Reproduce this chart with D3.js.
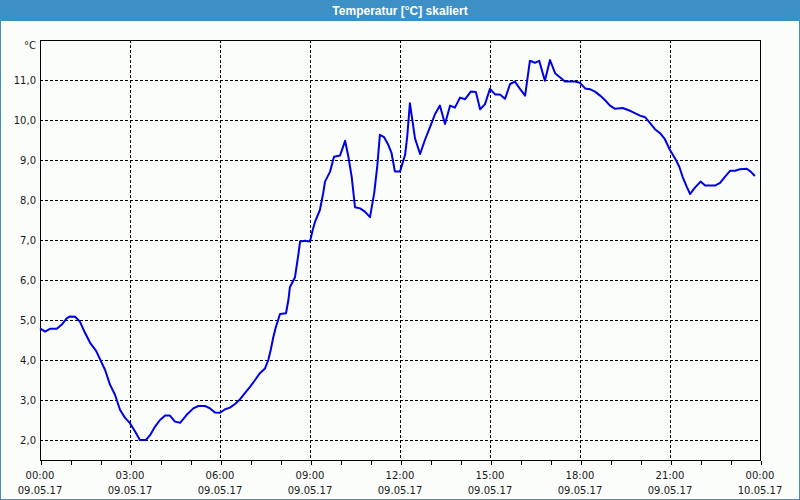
<!DOCTYPE html>
<html>
<head>
<meta charset="utf-8">
<script src="https://cdn.jsdelivr.net/npm/d3@7"></script>
<style>
  html, body { margin: 0; padding: 0; background: #ffffff; }
  svg { display: block; }
</style>
</head>
<body>
<div id="chart"></div>
<script>
// ---- data (hours after 09.05.17 00:00, temperature °C) ----
const title = "Temperatur [°C] skaliert";
const unitLabel = "°C";
const hours = [
  0.00, 0.17, 0.33, 0.56, 0.72, 0.89, 1.00, 1.17, 1.33, 1.50, 1.67, 1.87, 2.00, 2.17, 2.33, 2.50, 2.67, 2.83,
  3.00, 3.17, 3.33, 3.53, 3.67, 3.83, 4.00, 4.17, 4.33, 4.50, 4.67, 4.89, 5.11, 5.28, 5.50, 5.67, 5.83,
  6.00, 6.17, 6.33, 6.50, 6.67, 6.83, 7.00, 7.17, 7.33, 7.50, 7.61, 7.69, 7.78, 7.86, 8.00, 8.20, 8.28, 8.33,
  8.50, 8.61, 8.67, 8.83, 9.00, 9.09, 9.17, 9.33, 9.44, 9.50, 9.67, 9.80, 10.00, 10.17, 10.28, 10.39, 10.50,
  10.67, 10.83, 11.00, 11.14, 11.24, 11.33, 11.47, 11.61, 11.72, 11.83, 12.00,
  12.17, 12.24, 12.33, 12.50, 12.67, 12.83, 13.00, 13.17, 13.33, 13.50, 13.67, 13.83, 14.00, 14.17, 14.36,
  14.53, 14.67, 14.83, 15.00, 15.17, 15.33, 15.50, 15.67, 15.83, 16.00, 16.17, 16.33, 16.50, 16.64, 16.83,
  17.00, 17.17, 17.33, 17.50, 17.67, 17.83, 18.00, 18.17, 18.33, 18.50, 18.67, 18.83, 19.00, 19.17, 19.42,
  19.67, 19.83, 20.00, 20.17, 20.33, 20.50, 20.67, 20.83, 21.00, 21.17, 21.31, 21.42, 21.56, 21.67, 21.83,
  22.02, 22.17, 22.50, 22.67, 22.83, 23.00, 23.17, 23.33, 23.56, 23.69, 23.83
];
const temps = [
  4.79, 4.71, 4.78, 4.78, 4.88, 5.04, 5.09, 5.08, 4.96, 4.68, 4.43, 4.23, 4.02, 3.75, 3.39, 3.13, 2.75, 2.56,
  2.42, 2.21, 2.00, 2.00, 2.12, 2.33, 2.50, 2.61, 2.61, 2.46, 2.43, 2.63, 2.79, 2.85, 2.85, 2.79, 2.69,
  2.68, 2.77, 2.81, 2.90, 3.02, 3.17, 3.33, 3.50, 3.67, 3.79, 4.00, 4.25, 4.58, 4.82, 5.15, 5.17, 5.50, 5.82,
  6.07, 6.63, 6.96, 6.98, 6.96, 7.25, 7.46, 7.75, 8.17, 8.46, 8.71, 9.08, 9.11, 9.48, 9.08, 8.58, 7.82,
  7.79, 7.71, 7.57, 8.17, 8.83, 9.63, 9.57, 9.38, 9.17, 8.71, 8.71,
  9.13, 9.58, 10.42, 9.54, 9.15, 9.50, 9.82, 10.15, 10.36, 9.90, 10.36, 10.31, 10.56, 10.52, 10.71,
  10.70, 10.27, 10.39, 10.78, 10.64, 10.64, 10.53, 10.90, 10.96, 10.78, 10.61, 11.48, 11.43, 11.48, 10.98,
  11.50, 11.17, 11.07, 10.96, 10.96, 10.96, 10.93, 10.79, 10.77, 10.71, 10.61, 10.50, 10.36, 10.28, 10.30,
  10.23, 10.17, 10.11, 10.07, 9.93, 9.77, 9.67, 9.52, 9.25, 9.04, 8.83, 8.58, 8.33, 8.15, 8.31,
  8.46, 8.36, 8.36, 8.43, 8.58, 8.73, 8.73, 8.77, 8.78, 8.71, 8.60
];
const yTickValues = [2, 3, 4, 5, 6, 7, 8, 9, 10, 11];
const xMajorHours = [0, 3, 6, 9, 12, 15, 18, 21, 24];
const xTimeLabels = ["00:00", "03:00", "06:00", "09:00", "12:00", "15:00", "18:00", "21:00", "00:00"];
const xDateLabels = ["09.05.17", "09.05.17", "09.05.17", "09.05.17", "09.05.17", "09.05.17", "09.05.17", "09.05.17", "10.05.17"];

// ---- layout ----
const W = 800, H = 500;
const plot = { left: 40, right: 760, top: 40, bottom: 460 };
const t0 = new Date(2017, 4, 9, 0, 0);
const toDate = h => new Date(t0.getTime() + h * 3600 * 1000);

const svg = d3.select("#chart").append("svg").attr("width", W).attr("height", H);

// window frame and title bar
svg.append("rect").attr("x", 0).attr("y", 0).attr("width", W).attr("height", H).attr("fill", "#fbfdfb");
svg.append("rect").attr("x", 0).attr("y", 0).attr("width", W).attr("height", 21).attr("fill", "#3c90c5");
svg.append("rect").attr("x", 0.5).attr("y", 0.5).attr("width", W - 1).attr("height", H - 1)
  .attr("fill", "none").attr("stroke", "#3c90c5").attr("stroke-width", 1);
svg.append("text").attr("x", W / 2).attr("y", 15).attr("text-anchor", "middle")
  .attr("fill", "#ffffff").attr("font-family", "'Liberation Sans', Arial, sans-serif")
  .attr("font-weight", "bold").attr("font-size", 12).text(title);

const x = d3.scaleTime().domain([toDate(0), toDate(24)]).range([plot.left, plot.right]);
const y = d3.scaleLinear().domain([1.5, 12]).range([plot.bottom, plot.top]);

const g = svg.append("g");

// grid
g.append("g").selectAll("line").data(yTickValues).join("line")
  .attr("x1", plot.left).attr("x2", plot.right)
  .attr("y1", d => Math.round(y(d)) + 0.5).attr("y2", d => Math.round(y(d)) + 0.5)
  .attr("stroke", "#000").attr("stroke-width", 1).attr("stroke-dasharray", "3,2")
  .attr("shape-rendering", "crispEdges");
g.append("g").selectAll("line").data(xMajorHours.slice(1, -1)).join("line")
  .attr("x1", d => Math.round(x(toDate(d))) + 0.5).attr("x2", d => Math.round(x(toDate(d))) + 0.5)
  .attr("y1", plot.top).attr("y2", plot.bottom)
  .attr("stroke", "#000").attr("stroke-width", 1).attr("stroke-dasharray", "3,2")
  .attr("shape-rendering", "crispEdges");

// frame
g.append("rect").attr("x", plot.left + 0.5).attr("y", plot.top + 0.5)
  .attr("width", plot.right - plot.left).attr("height", plot.bottom - plot.top)
  .attr("fill", "none").attr("stroke", "#000").attr("stroke-width", 1)
  .attr("shape-rendering", "crispEdges");

// x axis ticks (every hour)
const xAxis = d3.axisBottom(x).ticks(d3.timeHour.every(1)).tickSize(4).tickFormat("");
const xa = g.append("g").attr("transform", `translate(0.5,${plot.bottom + 0.5})`).call(xAxis);
xa.select(".domain").remove();
xa.selectAll("line").attr("stroke", "#000").attr("shape-rendering", "crispEdges");

// x labels (two lines)
const labelFont = "'DejaVu Sans', Verdana, sans-serif";
const xl = g.append("g").selectAll("g").data(xMajorHours).join("g")
  .attr("transform", d => `translate(${x(toDate(d))},0)`);
xl.append("text").attr("y", 479).attr("text-anchor", "middle")
  .attr("font-family", labelFont).attr("font-size", 10).attr("fill", "#1a1a1a")
  .text((d, i) => xTimeLabels[i]);
xl.append("text").attr("y", 494).attr("text-anchor", "middle")
  .attr("font-family", labelFont).attr("font-size", 10).attr("fill", "#1a1a1a")
  .text((d, i) => xDateLabels[i]);

// y labels
const yAxis = d3.axisLeft(y).tickValues(yTickValues).tickSize(0).tickPadding(4)
  .tickFormat(d => d3.format(".1f")(d).replace(".", ","));
const ya = g.append("g").attr("transform", `translate(${plot.left},0)`).call(yAxis);
ya.select(".domain").remove();
ya.selectAll("text").attr("font-family", labelFont).attr("font-size", 10).attr("fill", "#1a1a1a");

g.append("text").attr("x", 36).attr("y", 49).attr("text-anchor", "end")
  .attr("font-family", labelFont).attr("font-size", 10).attr("fill", "#1a1a1a").text(unitLabel);

// line
const pts = hours.map((h, i) => ({ t: toDate(h), v: temps[i] }));
const line = d3.line().x(d => x(d.t)).y(d => y(d.v));
g.append("path").datum(pts).attr("d", line)
  .attr("fill", "none").attr("stroke", "#0000e6").attr("stroke-width", 2)
  .attr("stroke-linejoin", "round");
</script>
</body>
</html>
